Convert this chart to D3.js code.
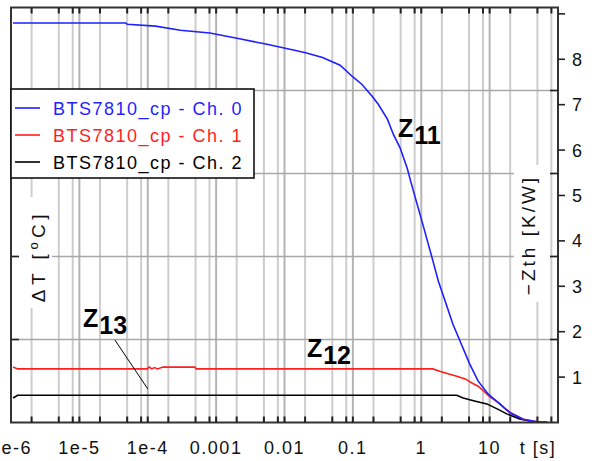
<!DOCTYPE html>
<html><head><meta charset="utf-8">
<script src="https://cdn.jsdelivr.net/npm/d3@7"></script>
<style>
body{margin:0;background:#fff}
svg{display:block}
text{font-family:"Liberation Sans",Arial,sans-serif}
</style>
</head><body>
<svg id="c" width="592" height="461"></svg>
<script>
// ---------------- data ----------------
const seriesNames  = ["BTS7810_cp - Ch. 0", "BTS7810_cp - Ch. 1", "BTS7810_cp - Ch. 2"];
const seriesColors = ["#1f1fff", "#ff1f1f", "#000000"];

const ch0Time = [1.07e-6, 4.8e-5, 5.0e-5, 1.3e-4, 3.0e-4, 8.1e-4, 2.2e-3, 5.1e-3, 0.014, 0.021, 0.036, 0.065, 0.10, 0.135, 0.19, 0.235, 0.32, 0.39, 0.49, 0.62, 0.72, 0.87, 1.07, 1.48, 1.78, 2.24, 2.9, 3.7, 5.1, 6.8, 9.5, 14, 20, 31, 49, 69];
const ch0Zth  = [8.80, 8.80, 8.77, 8.73, 8.64, 8.58, 8.45, 8.34, 8.20, 8.14, 8.04, 7.87, 7.61, 7.45, 7.19, 7.01, 6.68, 6.35, 6.05, 5.61, 5.25, 4.81, 4.33, 3.56, 3.11, 2.67, 2.17, 1.79, 1.29, 0.91, 0.63, 0.41, 0.21, 0.07, 0.015, 0.01];

const ch1Time = [1.07e-6, 1.25e-6, 9.8e-5, 1.05e-4, 1.15e-4, 1.25e-4, 1.4e-4, 1.66e-4, 4.9e-4, 5.1e-4, 1.48, 1.86, 2.4, 3.3, 4.4, 5.5, 6.8, 8.5, 10.2, 14, 17, 20, 31, 49, 69];
const ch1Zth  = [1.22, 1.18, 1.18, 1.22, 1.18, 1.21, 1.18, 1.22, 1.22, 1.18, 1.18, 1.13, 1.08, 1.02, 0.96, 0.87, 0.80, 0.67, 0.56, 0.42, 0.30, 0.22, 0.07, 0.015, 0.01];

const ch2Time = [1.07e-6, 1.25e-6, 3.3, 4.1, 6.2, 9.1, 12.9, 17.8, 27.5, 42.7, 69];
const ch2Zth  = [0.54, 0.60, 0.60, 0.54, 0.47, 0.41, 0.30, 0.19, 0.08, 0.015, 0.01];

const xMajorTicks  = [1e-6, 1e-5, 1e-4, 1e-3, 1e-2, 1e-1, 1, 10];
const xTickLabels  = ["1e-6", "1e-5", "1e-4", "0.001", "0.01", "0.1", "1", "10"];
const xMinorSteps  = [2, 5, 8];
const xAxisTitle   = "t [s]";
const zthTicks     = [1, 2, 3, 4, 5, 6, 7, 8, 9];
const zthLabels    = ["1", "2", "3", "4", "5", "6", "7", "8", ""];
const dTTicks      = [1, 2, 3, 4];
const leftTitle    = ["ΔT [", "o", "C]"];
const rightTitle   = "−Zth [K/W]";

const annoText  = ["Z", "Z", "Z"];
const annoSub   = ["11", "12", "13"];
const annoTime  = [0.457, 0.0213, 1.13e-5];
const annoZth   = [6.29, 1.44, 2.10];
const leaderTime = [3.3e-5, 1.0e-4];
const leaderZth  = [1.82, 0.74];

// ---------------- layout ----------------
const L = 11, R = 558, T = 7.5, B = 422.5;
const svg = d3.select("#c");
const x  = d3.scaleLog().domain([1e-6, 100]).range([L, R]);
const yZ = d3.scaleLinear().domain([0, 9.14]).range([B, T]);
const yT = d3.scaleLinear().domain([0, 5]).range([B, T]);

const allX = [];
for (let d = -6; d <= 1; d++) {
  allX.push({v: Math.pow(10, d), major: true});
  xMinorSteps.forEach(s => allX.push({v: s * Math.pow(10, d), major: false}));
}
const gridX = allX.filter(t => t.v > 1e-6);

// vertical grid
svg.append("g").selectAll("line").data(gridX).join("line")
  .attr("x1", d => x(d.v)).attr("x2", d => x(d.v))
  .attr("y1", T).attr("y2", B)
  .attr("stroke", d => d.major ? "#b4b4b4" : "#cdcdcd")
  .attr("stroke-width", 2);
// horizontal grid (ΔT)
svg.append("g").selectAll("line").data(dTTicks).join("line")
  .attr("x1", L).attr("x2", R)
  .attr("y1", d => yT(d)).attr("y2", d => yT(d))
  .attr("stroke", "#a8a8a8").attr("stroke-width", 1.6);

// white backgrounds of axis titles
svg.append("rect").attr("x", 19).attr("y", 197).attr("width", 33).attr("height", 111).attr("fill", "#fff");
svg.append("rect").attr("x", 514).attr("y", 165).attr("width", 36).attr("height", 137).attr("fill", "#fff");

// curves
const series = [[ch0Time, ch0Zth], [ch1Time, ch1Zth], [ch2Time, ch2Zth]];
const line = d3.line().x(d => x(d[0])).y(d => yZ(d[1]));
[2, 1, 0].forEach(i => {
  const pts = series[i][0].map((t, k) => [t, series[i][1][k]]);
  svg.append("path").datum(pts).attr("d", line)
    .attr("fill", "none").attr("stroke", seriesColors[i]).attr("stroke-width", 1.6);
});

// frame
svg.append("rect").attr("x", L).attr("y", T).attr("width", R - L).attr("height", B - T)
  .attr("fill", "none").attr("stroke", "#333").attr("stroke-width", 2);

// top / bottom ticks
const tickX = allX.filter(t => t.v > 1e-6);
svg.append("g").selectAll("line").data(tickX).join("line")
  .attr("x1", d => x(d.v)).attr("x2", d => x(d.v))
  .attr("y1", T).attr("y2", T + 6).attr("stroke", "#222").attr("stroke-width", 2);
svg.append("g").selectAll("line").data(tickX).join("line")
  .attr("x1", d => x(d.v)).attr("x2", d => x(d.v))
  .attr("y1", B).attr("y2", B - 6).attr("stroke", "#222").attr("stroke-width", 2);

// ΔT ticks (left inward, right inward)
svg.append("g").selectAll("line").data(dTTicks).join("line")
  .attr("x1", L).attr("x2", L + 8).attr("y1", d => yT(d)).attr("y2", d => yT(d))
  .attr("stroke", "#222").attr("stroke-width", 1.6);
svg.append("g").selectAll("line").data(dTTicks).join("line")
  .attr("x1", R - 8).attr("x2", R).attr("y1", d => yT(d)).attr("y2", d => yT(d))
  .attr("stroke", "#222").attr("stroke-width", 1.6);

// Zth ticks (right outward)
svg.append("g").selectAll("line").data(zthTicks).join("line")
  .attr("x1", R).attr("x2", R + 7).attr("y1", d => yZ(d)).attr("y2", d => yZ(d))
  .attr("stroke", "#222").attr("stroke-width", 1.6);
svg.append("g").selectAll("text").data(zthTicks).join("text")
  .attr("x", 572).attr("y", d => yZ(d) + 6.5)
  .attr("font-size", 18).attr("letter-spacing", 1.5).attr("fill", "#111")
  .text((d, i) => zthLabels[i]);

// x tick labels
svg.append("g").selectAll("text").data(xMajorTicks).join("text")
  .attr("x", d => x(d)).attr("y", 454)
  .attr("text-anchor", "middle").attr("font-size", 18).attr("letter-spacing", 1.5).attr("fill", "#111")
  .text((d, i) => xTickLabels[i]);
svg.append("text").attr("x", 538).attr("y", 454).attr("text-anchor", "middle")
  .attr("font-size", 18).attr("letter-spacing", 1.5).attr("fill", "#111").text(xAxisTitle);

// axis titles (rotated)
const lt = svg.append("text").attr("transform", "translate(45,256) rotate(-90)")
  .attr("text-anchor", "middle").attr("font-size", 19).attr("letter-spacing", 4.5).attr("fill", "#111");
lt.append("tspan").text(leftTitle[0]);
lt.append("tspan").attr("font-size", 13).attr("dy", -7).text(leftTitle[1]);
lt.append("tspan").attr("dy", 7).text(leftTitle[2]);
svg.append("text").attr("transform", "translate(535,235) rotate(-90)")
  .attr("text-anchor", "middle").attr("font-size", 19).attr("letter-spacing", 3).attr("fill", "#111")
  .text(rightTitle);

// legend
const lg = svg.append("g");
lg.append("rect").attr("x", L).attr("y", 89).attr("width", 243).attr("height", 89)
  .attr("fill", "#fff").attr("stroke", "#111").attr("stroke-width", 1.6);
seriesNames.forEach((n, i) => {
  const yy = 108 + i * 27;
  lg.append("line").attr("x1", 15).attr("x2", 40).attr("y1", yy).attr("y2", yy)
    .attr("stroke", seriesColors[i]).attr("stroke-width", 1.6);
  lg.append("text").attr("x", 53).attr("y", yy + 7).attr("font-size", 18).attr("letter-spacing", 1.5)
    .attr("fill", seriesColors[i]).text(n);
});

// annotations
annoText.forEach((a, i) => {
  const t = svg.append("text").attr("x", x(annoTime[i])).attr("y", yZ(annoZth[i]))
    .attr("font-size", 25).attr("font-weight", "bold").attr("fill", "#000");
  t.append("tspan").text(a);
  t.append("tspan").attr("dx", 1).attr("dy", 7).text(annoSub[i]);
});
svg.append("line")
  .attr("x1", x(leaderTime[0])).attr("y1", yZ(leaderZth[0]))
  .attr("x2", x(leaderTime[1])).attr("y2", yZ(leaderZth[1]))
  .attr("stroke", "#000").attr("stroke-width", 1);
</script>
</body></html>
